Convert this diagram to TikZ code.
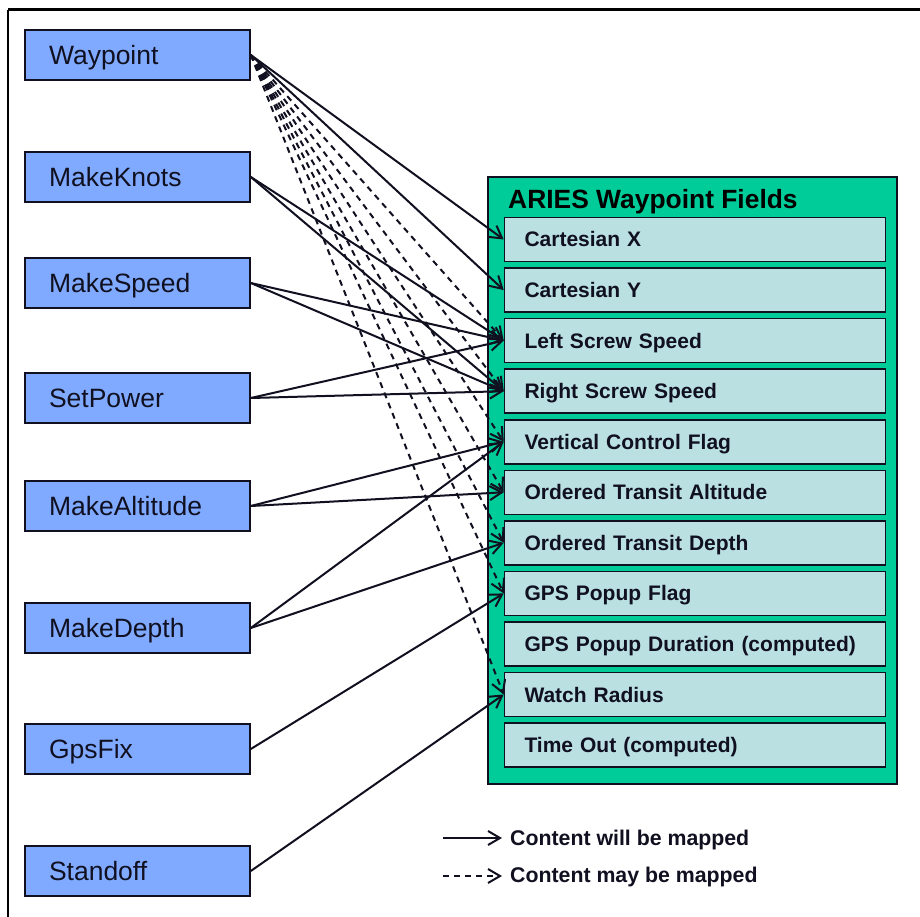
\documentclass[tikz,border=0pt]{standalone}
\usepackage{fontspec}
\setmainfont{Liberation Sans}
\usetikzlibrary{arrows.meta}
\definecolor{srcblue}{RGB}{128,170,255}
\definecolor{panelgreen}{RGB}{0,204,153}
\definecolor{fieldcyan}{RGB}{186,224,226}
\definecolor{ink}{RGB}{16,16,32}
\begin{document}
\begin{tikzpicture}[x=1pt,y=-1pt,
  srcbox/.style={draw=ink,line width=1.6pt,fill=srcblue,minimum width=225pt,minimum height=50pt,
    text width=177pt,text height=24pt,text depth=5pt,align=left,inner sep=0pt,
    font=\fontsize{26.5}{30}\selectfont,text=ink},
  fieldbox/.style={draw=ink,line width=1.6pt,fill=fieldcyan,minimum width=381pt,minimum height=44pt,
    text width=341pt,text height=20pt,text depth=5pt,align=left,inner sep=0pt,
    font=\fontsize{21}{24}\selectfont\bfseries,text=ink},
  maps/.style={draw=ink,line width=2pt,-{Straight Barb[length=12pt,width=14pt,line width=2pt]}},
  maymap/.style={maps,dash pattern=on 6pt off 5pt}]
\useasboundingbox (0,0) rectangle (920,917);
\fill[white] (0,0) rectangle (920,917);
% frame edges
\draw[line width=3pt,black] (8,10) -- (920,10);
\draw[line width=2pt,black] (8,10) -- (8,917);

% source commands
\node[srcbox] (wp) at (137.5,55) {Waypoint};
\node[srcbox] (mk) at (137.5,177) {MakeKnots};
\node[srcbox] (ms) at (137.5,283) {MakeSpeed};
\node[srcbox] (sp) at (137.5,398) {SetPower};
\node[srcbox] (ma) at (137.5,506) {MakeAltitude};
\node[srcbox] (md) at (137.5,628) {MakeDepth};
\node[srcbox] (gf) at (137.5,749) {GpsFix};
\node[srcbox] (so) at (137.5,871) {Standoff};

% waypoint field panel
\node[draw=ink,line width=1.6pt,fill=panelgreen,minimum width=409pt,minimum height=607pt,inner sep=0pt]
  (panel) at (692.5,480.5) {};
\node[anchor=base west,inner sep=0pt,font=\fontsize{26.4}{30}\selectfont\bfseries,text=black]
  (ptitle) at (508,209) {ARIES Waypoint Fields};
\node[fieldbox] (cx)  at (695,239.5) {Cartesian X};
\node[fieldbox] (cy)  at (695,290.1) {Cartesian Y};
\node[fieldbox] (lss) at (695,340.6) {Left Screw Speed};
\node[fieldbox] (rss) at (695,391.2) {Right Screw Speed};
\node[fieldbox] (vcf) at (695,441.7) {Vertical Control Flag};
\node[fieldbox] (ota) at (695,492.3) {Ordered Transit Altitude};
\node[fieldbox] (otd) at (695,542.8) {Ordered Transit Depth};
\node[fieldbox] (gpf) at (695,593.4) {GPS Popup Flag};
\node[fieldbox] (gpd) at (695,643.9) {GPS Popup Duration (computed)};
\node[fieldbox] (wr)  at (695,694.5) {Watch Radius};
\node[fieldbox] (to)  at (695,745) {Time Out (computed)};

% optional mappings
\foreach \t in {lss,rss,vcf,ota,otd,gpf,wr}
  \draw[maymap] (wp.east) -- (\t.west);

% definite mappings
\draw[maps] (wp.east) -- (cx.west);
\draw[maps] (wp.east) -- (cy.west);
\foreach \s in {mk,ms,sp}{
  \draw[maps] (\s.east) -- (lss.west);
  \draw[maps] (\s.east) -- (rss.west);
}
\draw[maps] (ma.east) -- (vcf.west);
\draw[maps] (ma.east) -- (ota.west);
\draw[maps] (md.east) -- (vcf.west);
\draw[maps] (md.east) -- (otd.west);
\draw[maps] (gf.east) -- (gpf.west);
\draw[maps] (so.east) -- (wr.west);

% legend
\coordinate (l1a) at (443,838);
\coordinate (l1b) at (502,838);
\coordinate (l2a) at (443,876);
\coordinate (l2b) at (502,876);
\draw[maps] (l1a) -- (l1b);
\draw[maymap] (l2a) -- (l2b);
\node[anchor=base west,inner sep=0pt,font=\fontsize{21.3}{24}\selectfont\bfseries,text=ink] (lt1) at (510,845) {Content will be mapped};
\node[anchor=base west,inner sep=0pt,font=\fontsize{21.3}{24}\selectfont\bfseries,text=ink] (lt2) at (510,882) {Content may be mapped};
\end{tikzpicture}
\end{document}
